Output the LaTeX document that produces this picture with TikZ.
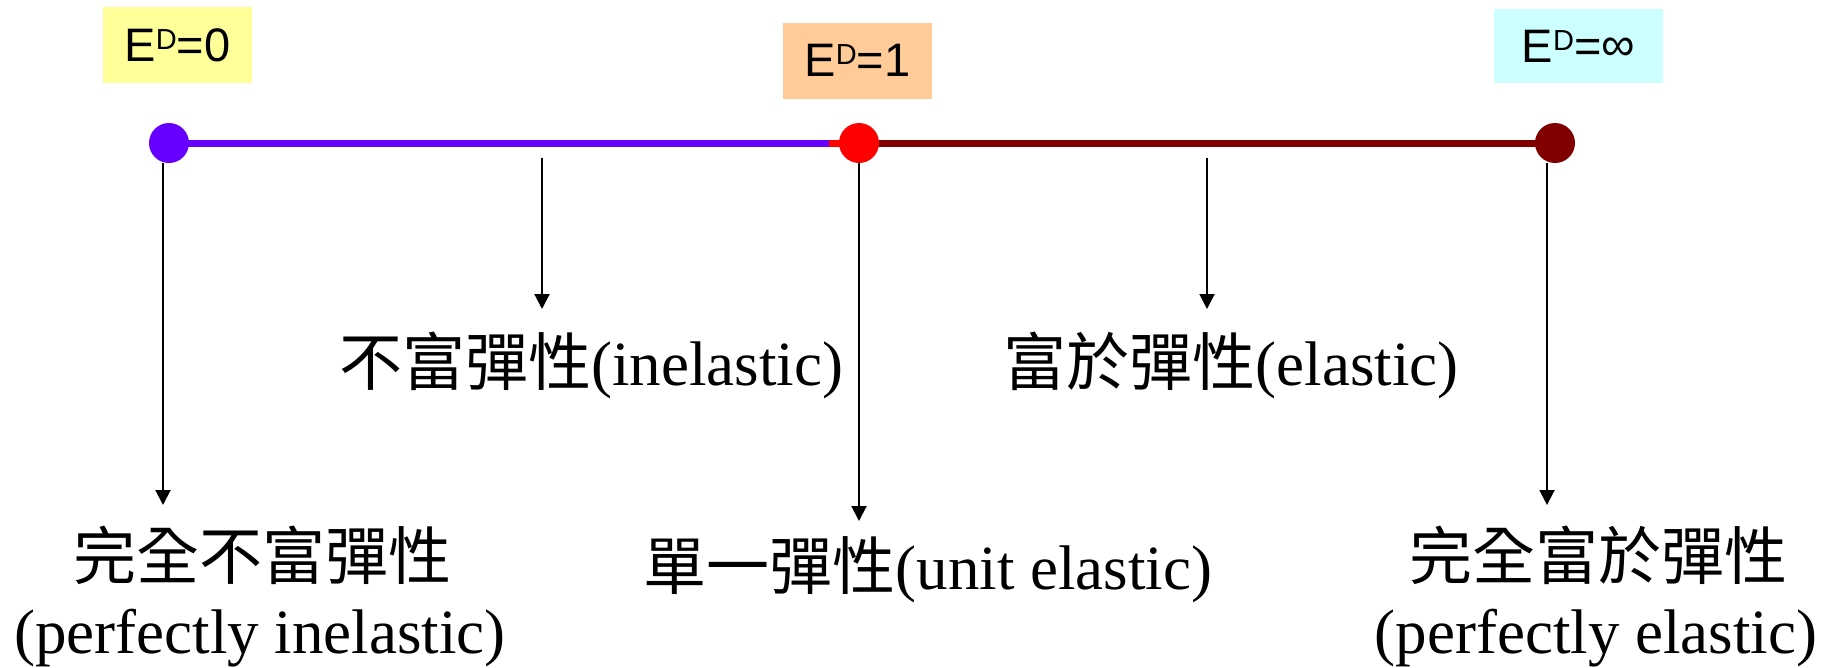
\documentclass[tikz,border=0pt]{standalone}
\usepackage{fontspec}
\setmainfont{Liberation Serif}
\newfontfamily\cjk{Noto Sans CJK TC}
\newfontfamily\arial{Liberation Sans}
\usetikzlibrary{arrows.meta}
\definecolor{yel}{HTML}{FFFF99}
\definecolor{org}{HTML}{FFCC99}
\definecolor{cyn}{HTML}{CCFFFF}
\definecolor{blu}{HTML}{6600FF}
\definecolor{rd}{HTML}{FF0000}
\definecolor{drd}{HTML}{800000}
\newcommand{\supD}{\raisebox{12pt}{\fontsize{29}{29}\selectfont D}}
\begin{document}
\begin{tikzpicture}[x=1pt,y=-1pt,
  ebox/.style={inner sep=0pt, minimum width=149pt, minimum height=76pt,
     font=\arial\fontsize{47}{52}\selectfont},
  dot/.style={circle, inner sep=0pt, minimum size=40pt},
  bar/.style={line width=7pt},
  arr/.style={line width=2pt, -{Triangle[width=15pt,length=15pt]}},
  lab/.style={anchor=base, inner sep=0pt, font=\fontsize{63}{72}\selectfont}
]
\useasboundingbox (0,0) rectangle (1827,667);
% boxes
\node[ebox, fill=yel] (b0) at (177.5,45) {E\supD=0};
\node[ebox, fill=org] (b1) at (857.5,60.5) {E\supD=1};
\node[ebox, fill=cyn, minimum width=169pt, minimum height=74pt] (b2) at (1578.5,46) {E\supD=\raisebox{2pt}{∞}};
% axis
\coordinate (c0) at (169,143);
\coordinate (cr) at (829,143);
\coordinate (c1) at (859,143);
\coordinate (c2) at (1555,143);
\draw[bar, blu] (c0) -- (cr);
\draw[bar, rd] (cr) -- (c1);
\draw[bar, drd] (c1) -- (c2);
\node[dot, fill=blu] (d0) at (c0) {};
\node[dot, fill=rd] (d1) at (c1) {};
\node[dot, fill=drd] (d2) at (c2) {};
% arrow targets
\coordinate (t0) at (163,505);
\coordinate (t1) at (859,521);
\coordinate (t2) at (1547,505);
\coordinate (ms) at (542,158);
\coordinate (mt) at (542,309);
\coordinate (ns) at (1207,158);
\coordinate (nt) at (1207,309);
\draw[arr] (t0 |- d0.south) -- (t0);
\draw[arr] (d1.south) -- (t1);
\draw[arr] (t2 |- d2.south) -- (t2);
\draw[arr] (ms) -- (mt);
\draw[arr] (ns) -- (nt);
% labels
\node[lab] (l1) at (591,385) {{\cjk 不富彈性}(inelastic)};
\node[lab] (l2) at (1231,385) {{\cjk 富於彈性}(elastic)};
\node[lab] (l3) at (928,589) {{\cjk 單一彈性}(unit elastic)};
\node[lab] (l0a) at (262,579) {\cjk 完全不富彈性};
\node[lab] (l0b) at (260,653) {(perfectly inelastic)};
\node[lab] (l4a) at (1598,579) {\cjk 完全富於彈性};
\node[lab] (l4b) at (1596,653) {(perfectly elastic)};
\end{tikzpicture}
\end{document}
